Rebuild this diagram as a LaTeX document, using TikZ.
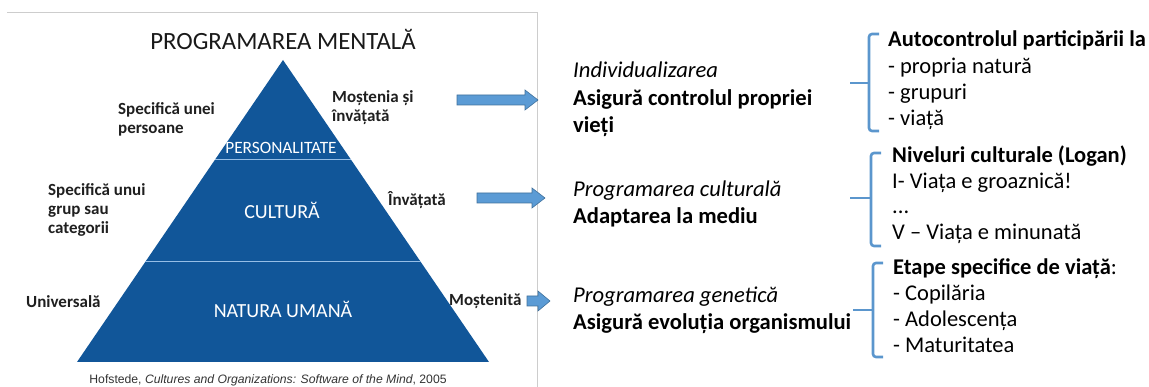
\documentclass[tikz,border=0pt]{standalone}
\usepackage{fontspec}
\setmainfont{Carlito}
\newfontfamily\arialf{Liberation Sans}
\definecolor{pyrblue}{RGB}{17,86,153}
\definecolor{divline}{RGB}{150,190,230}
\definecolor{arrfill}{RGB}{91,155,213}
\definecolor{arrdraw}{RGB}{65,113,156}
\definecolor{brcol}{RGB}{91,150,205}
\definecolor{framecol}{RGB}{205,205,205}
\begin{document}
\begin{tikzpicture}[x=1pt,y=-1pt,
  lab/.style={inner sep=0pt,anchor=base west,font=\fontsize{17}{19}\selectfont\bfseries,text=black!88},
  inlab/.style={inner sep=0pt,anchor=base,text=white},
  mid/.style={inner sep=0pt,anchor=base west,font=\fontsize{22.6}{26}\selectfont,text=black},
  rt/.style={inner sep=0pt,anchor=base west,font=\fontsize{22.5}{26}\selectfont,text=black},
  blockarr/.style={fill=arrfill,draw=arrdraw,line width=0.6pt},
  brace/.style={draw=brcol,line width=2.6pt,rounded corners=3pt}]
\useasboundingbox (0,0) rectangle (1149,387);
% frame
\draw[framecol,line width=1pt] (7,13) -- (537,13) -- (537,387);
% title
\node[inner sep=0pt,anchor=base,font=\fontsize{24.8}{28}\selectfont,text=black!90] (title) at (283,50) {PROGRAMAREA MENTALĂ};
% pyramid
\fill[pyrblue] (283,60) -- (489,362) -- (77,362) -- cycle;
\draw[divline,line width=1pt] (215,160) -- (351,160);
\draw[divline,line width=1pt] (145,262) -- (421,262);
\node[inlab,font=\fontsize{17.3}{19}\selectfont] (pers) at (281,153.5) {PERSONALITATE};
\node[inlab,font=\fontsize{20}{22}\selectfont] (cult) at (282,218.5) {CULTURĂ};
\node[inlab,font=\fontsize{20}{22}\selectfont] (nat) at (283,317.5) {NATURA UMANĂ};
% left labels
\node[lab] (l1a) at (118,115) {Specifică unei};
\node[lab] (l1b) at (118,134) {persoane};
\node[lab] (l2a) at (48,196) {Specifică unui};
\node[lab] (l2b) at (48,215) {grup sau};
\node[lab] (l2c) at (48,234) {categorii};
\node[lab] (l3) at (26,308) {Universală};
% right labels
\node[lab] (r1a) at (332,103) {Moștenia și};
\node[lab] (r1b) at (332,122) {învățată};
\node[lab] (r2) at (388,206) {Învățată};
\node[lab] (r3) at (449,306) {Moștenită};
% citation
\node[inner sep=0pt,anchor=base,font=\arialf\fontsize{12.2}{14}\selectfont,text=black!80] (cite) at (268,384) {Hofstede, \textit{Cultures and Organizations: Software of the Mind}, 2005};
% block arrows
\filldraw[blockarr] (457,95) -- (525,95) -- (525,90) -- (538,100) -- (525,110) -- (525,105) -- (457,105) -- cycle;
\filldraw[blockarr] (477,193) -- (532,193) -- (532,188) -- (545,198) -- (532,208) -- (532,203) -- (477,203) -- cycle;
\filldraw[blockarr] (527,296) -- (538,296) -- (538,291) -- (550,301) -- (538,311) -- (538,306) -- (527,306) -- cycle;
% middle texts
\node[mid] (m1a) at (573,78) {\itshape Individualizarea};
\node[mid] (m1b) at (573,106) {\bfseries Asigură controlul propriei};
\node[mid] (m1c) at (573,133) {\bfseries vieți};
\node[mid] (m2a) at (573,197) {\itshape Programarea culturală};
\node[mid] (m2b) at (573,224) {\bfseries Adaptarea la mediu};
\node[mid] (m3a) at (573,303) {\itshape Programarea genetică};
\node[mid] (m3b) at (573,330) {\bfseries Asigură evoluția organismului};
% braces
\draw[brace] (879,34) -- (869,34) -- (869,131) -- (879,131);
\draw[brace] (869,83) -- (850,83);
\draw[brace] (881,153) -- (871,153) -- (871,246) -- (881,246);
\draw[brace] (871,198) -- (850,198);
\draw[brace] (883,263) -- (873,263) -- (873,357) -- (883,357);
\draw[brace] (873,310) -- (853,310);
% right column
\node[rt] (a0) at (888,47) {\bfseries Autocontrolul participării la};
\node[rt] (a1) at (888,74) {- propria natură};
\node[rt] (a2) at (888,100) {- grupuri};
\node[rt] (a3) at (888,126) {- viață};
\node[rt] (b0) at (892,163) {\bfseries Niveluri culturale (Logan)};
\node[rt] (b1) at (892,189) {I- Viața e groaznică!};
\node[rt] (b2) at (892,214) {...};
\node[rt] (b3) at (892,240) {V – Viața e minunată};
\node[rt] (c0) at (893,275) {\textbf{Etape specifice de viață}:};
\node[rt] (c1) at (893,301) {- Copilăria};
\node[rt] (c2) at (893,327) {- Adolescența};
\node[rt] (c3) at (893,353) {- Maturitatea};
\end{tikzpicture}
\end{document}
